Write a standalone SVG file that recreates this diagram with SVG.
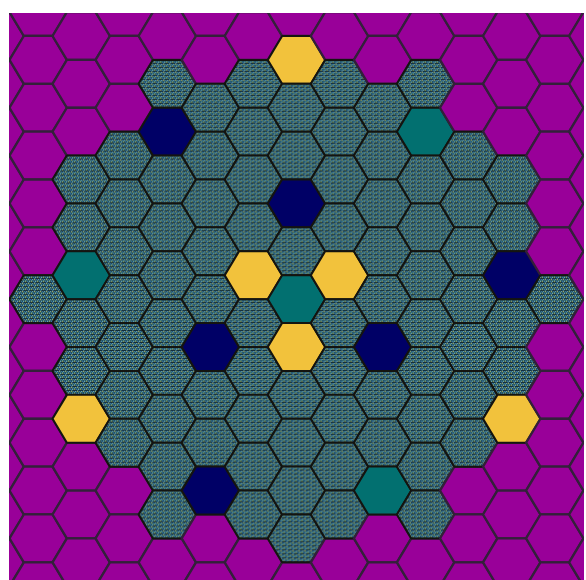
<svg xmlns="http://www.w3.org/2000/svg" xmlns:xlink="http://www.w3.org/1999/xlink" width="586" height="580" viewBox="0 0 586 580">
<defs>
<style>
use{stroke-width:2;stroke-linejoin:round}
.p{fill:#990099;stroke:#33203a;stroke-width:2.3}
.f{fill:url(#tex);stroke:#141410}
.y{fill:#f2c23c;stroke:#141410}
.t{fill:#027070;stroke:#141410}
.n{fill:#000066;stroke:#141410}
</style>
<pattern id="tex" width="6" height="4" patternUnits="userSpaceOnUse">
<rect width="6" height="4" fill="#1d434c"/>
<rect x="0" y="0" width="1" height="1" fill="#86c8dc"/>
<rect x="2" y="0" width="1" height="1" fill="#c4c468"/>
<rect x="4" y="0" width="1" height="1" fill="#3f88c8"/>
<rect x="1" y="1" width="1" height="1" fill="#2e6a88"/>
<rect x="3" y="1" width="1" height="1" fill="#4a8e90"/>
<rect x="5" y="1" width="1" height="1" fill="#6aa8a8"/>
<rect x="1" y="2" width="1" height="1" fill="#3f88c8"/>
<rect x="3" y="2" width="1" height="1" fill="#86c8dc"/>
<rect x="5" y="2" width="1" height="1" fill="#a8b458"/>
<rect x="0" y="3" width="6" height="1" fill="#142c34"/>
<rect x="2" y="3" width="1" height="1" fill="#4e90a8"/>
</pattern>
<path id="hx" d="M-28.7,0 L-14.35,-23.93 L14.35,-23.93 L28.7,0 L14.35,23.93 L-14.35,23.93 Z"/>
<clipPath id="clip"><rect x="9" y="13" width="575" height="572"/></clipPath>
</defs>
<rect width="586" height="580" fill="#ffffff"/>
<g clip-path="url(#clip)">
<g id="col-m7">
<use id="h-m7-0" href="#hx" x="-4.85" y="36" class="p"/>
<use id="h-m7-1" href="#hx" x="-4.85" y="83.85" class="p"/>
<use id="h-m7-2" href="#hx" x="-4.85" y="131.7" class="p"/>
<use id="h-m7-3" href="#hx" x="-4.85" y="179.55" class="p"/>
<use id="h-m7-4" href="#hx" x="-4.85" y="227.4" class="p"/>
<use id="h-m7-5" href="#hx" x="-4.85" y="275.25" class="p"/>
<use id="h-m7-6" href="#hx" x="-4.85" y="323.1" class="p"/>
<use id="h-m7-7" href="#hx" x="-4.85" y="370.95" class="p"/>
<use id="h-m7-8" href="#hx" x="-4.85" y="418.8" class="p"/>
<use id="h-m7-9" href="#hx" x="-4.85" y="466.65" class="p"/>
<use id="h-m7-10" href="#hx" x="-4.85" y="514.5" class="p"/>
<use id="h-m7-11" href="#hx" x="-4.85" y="562.35" class="p"/>
</g>
<g id="col-m6">
<use id="h-m6-m1" href="#hx" x="38.2" y="12.05" class="p"/>
<use id="h-m6-0" href="#hx" x="38.2" y="59.9" class="p"/>
<use id="h-m6-1" href="#hx" x="38.2" y="107.75" class="p"/>
<use id="h-m6-2" href="#hx" x="38.2" y="155.6" class="p"/>
<use id="h-m6-3" href="#hx" x="38.2" y="203.45" class="p"/>
<use id="h-m6-4" href="#hx" x="38.2" y="251.3" class="p"/>
<use id="h-m6-6" href="#hx" x="38.2" y="347" class="p"/>
<use id="h-m6-7" href="#hx" x="38.2" y="394.85" class="p"/>
<use id="h-m6-8" href="#hx" x="38.2" y="442.7" class="p"/>
<use id="h-m6-9" href="#hx" x="38.2" y="490.55" class="p"/>
<use id="h-m6-10" href="#hx" x="38.2" y="538.4" class="p"/>
<use id="h-m6-11" href="#hx" x="38.2" y="586.25" class="p"/>
<use id="h-m6-5" href="#hx" x="38.2" y="299.15" class="f"/>
</g>
<g id="col-m5">
<use id="h-m5-0" href="#hx" x="81.25" y="36" class="p"/>
<use id="h-m5-1" href="#hx" x="81.25" y="83.85" class="p"/>
<use id="h-m5-2" href="#hx" x="81.25" y="131.7" class="p"/>
<use id="h-m5-9" href="#hx" x="81.25" y="466.65" class="p"/>
<use id="h-m5-10" href="#hx" x="81.25" y="514.5" class="p"/>
<use id="h-m5-11" href="#hx" x="81.25" y="562.35" class="p"/>
<use id="h-m5-3" href="#hx" x="81.25" y="179.55" class="f"/>
<use id="h-m5-4" href="#hx" x="81.25" y="227.4" class="f"/>
<use id="h-m5-5" href="#hx" x="81.25" y="275.25" class="t"/>
<use id="h-m5-6" href="#hx" x="81.25" y="323.1" class="f"/>
<use id="h-m5-7" href="#hx" x="81.25" y="370.95" class="f"/>
<use id="h-m5-8" href="#hx" x="81.25" y="418.8" class="y"/>
</g>
<g id="col-m4">
<use id="h-m4-m1" href="#hx" x="124.3" y="12.05" class="p"/>
<use id="h-m4-0" href="#hx" x="124.3" y="59.9" class="p"/>
<use id="h-m4-1" href="#hx" x="124.3" y="107.75" class="p"/>
<use id="h-m4-9" href="#hx" x="124.3" y="490.55" class="p"/>
<use id="h-m4-10" href="#hx" x="124.3" y="538.4" class="p"/>
<use id="h-m4-11" href="#hx" x="124.3" y="586.25" class="p"/>
<use id="h-m4-2" href="#hx" x="124.3" y="155.6" class="f"/>
<use id="h-m4-3" href="#hx" x="124.3" y="203.45" class="f"/>
<use id="h-m4-4" href="#hx" x="124.3" y="251.3" class="f"/>
<use id="h-m4-5" href="#hx" x="124.3" y="299.15" class="f"/>
<use id="h-m4-6" href="#hx" x="124.3" y="347" class="f"/>
<use id="h-m4-7" href="#hx" x="124.3" y="394.85" class="f"/>
<use id="h-m4-8" href="#hx" x="124.3" y="442.7" class="f"/>
</g>
<g id="col-m3">
<use id="h-m3-0" href="#hx" x="167.35" y="36" class="p"/>
<use id="h-m3-11" href="#hx" x="167.35" y="562.35" class="p"/>
<use id="h-m3-1" href="#hx" x="167.35" y="83.85" class="f"/>
<use id="h-m3-2" href="#hx" x="167.35" y="131.7" class="n"/>
<use id="h-m3-3" href="#hx" x="167.35" y="179.55" class="f"/>
<use id="h-m3-4" href="#hx" x="167.35" y="227.4" class="f"/>
<use id="h-m3-5" href="#hx" x="167.35" y="275.25" class="f"/>
<use id="h-m3-6" href="#hx" x="167.35" y="323.1" class="f"/>
<use id="h-m3-7" href="#hx" x="167.35" y="370.95" class="f"/>
<use id="h-m3-8" href="#hx" x="167.35" y="418.8" class="f"/>
<use id="h-m3-9" href="#hx" x="167.35" y="466.65" class="f"/>
<use id="h-m3-10" href="#hx" x="167.35" y="514.5" class="f"/>
</g>
<g id="col-m2">
<use id="h-m2-m1" href="#hx" x="210.4" y="12.05" class="p"/>
<use id="h-m2-0" href="#hx" x="210.4" y="59.9" class="p"/>
<use id="h-m2-10" href="#hx" x="210.4" y="538.4" class="p"/>
<use id="h-m2-11" href="#hx" x="210.4" y="586.25" class="p"/>
<use id="h-m2-1" href="#hx" x="210.4" y="107.75" class="f"/>
<use id="h-m2-2" href="#hx" x="210.4" y="155.6" class="f"/>
<use id="h-m2-3" href="#hx" x="210.4" y="203.45" class="f"/>
<use id="h-m2-4" href="#hx" x="210.4" y="251.3" class="f"/>
<use id="h-m2-5" href="#hx" x="210.4" y="299.15" class="f"/>
<use id="h-m2-6" href="#hx" x="210.4" y="347" class="n"/>
<use id="h-m2-7" href="#hx" x="210.4" y="394.85" class="f"/>
<use id="h-m2-8" href="#hx" x="210.4" y="442.7" class="f"/>
<use id="h-m2-9" href="#hx" x="210.4" y="490.55" class="n"/>
</g>
<g id="col-m1">
<use id="h-m1-0" href="#hx" x="253.45" y="36" class="p"/>
<use id="h-m1-11" href="#hx" x="253.45" y="562.35" class="p"/>
<use id="h-m1-1" href="#hx" x="253.45" y="83.85" class="f"/>
<use id="h-m1-2" href="#hx" x="253.45" y="131.7" class="f"/>
<use id="h-m1-3" href="#hx" x="253.45" y="179.55" class="f"/>
<use id="h-m1-4" href="#hx" x="253.45" y="227.4" class="f"/>
<use id="h-m1-5" href="#hx" x="253.45" y="275.25" class="y"/>
<use id="h-m1-6" href="#hx" x="253.45" y="323.1" class="f"/>
<use id="h-m1-7" href="#hx" x="253.45" y="370.95" class="f"/>
<use id="h-m1-8" href="#hx" x="253.45" y="418.8" class="f"/>
<use id="h-m1-9" href="#hx" x="253.45" y="466.65" class="f"/>
<use id="h-m1-10" href="#hx" x="253.45" y="514.5" class="f"/>
</g>
<g id="col-0">
<use id="h-0-m1" href="#hx" x="296.5" y="12.05" class="p"/>
<use id="h-0-11" href="#hx" x="296.5" y="586.25" class="p"/>
<use id="h-0-0" href="#hx" x="296.5" y="59.9" class="y"/>
<use id="h-0-1" href="#hx" x="296.5" y="107.75" class="f"/>
<use id="h-0-2" href="#hx" x="296.5" y="155.6" class="f"/>
<use id="h-0-3" href="#hx" x="296.5" y="203.45" class="n"/>
<use id="h-0-4" href="#hx" x="296.5" y="251.3" class="f"/>
<use id="h-0-5" href="#hx" x="296.5" y="299.15" class="t"/>
<use id="h-0-6" href="#hx" x="296.5" y="347" class="y"/>
<use id="h-0-7" href="#hx" x="296.5" y="394.85" class="f"/>
<use id="h-0-8" href="#hx" x="296.5" y="442.7" class="f"/>
<use id="h-0-9" href="#hx" x="296.5" y="490.55" class="f"/>
<use id="h-0-10" href="#hx" x="296.5" y="538.4" class="f"/>
</g>
<g id="col-1">
<use id="h-1-0" href="#hx" x="339.55" y="36" class="p"/>
<use id="h-1-11" href="#hx" x="339.55" y="562.35" class="p"/>
<use id="h-1-1" href="#hx" x="339.55" y="83.85" class="f"/>
<use id="h-1-2" href="#hx" x="339.55" y="131.7" class="f"/>
<use id="h-1-3" href="#hx" x="339.55" y="179.55" class="f"/>
<use id="h-1-4" href="#hx" x="339.55" y="227.4" class="f"/>
<use id="h-1-5" href="#hx" x="339.55" y="275.25" class="y"/>
<use id="h-1-6" href="#hx" x="339.55" y="323.1" class="f"/>
<use id="h-1-7" href="#hx" x="339.55" y="370.95" class="f"/>
<use id="h-1-8" href="#hx" x="339.55" y="418.8" class="f"/>
<use id="h-1-9" href="#hx" x="339.55" y="466.65" class="f"/>
<use id="h-1-10" href="#hx" x="339.55" y="514.5" class="f"/>
</g>
<g id="col-2">
<use id="h-2-m1" href="#hx" x="382.6" y="12.05" class="p"/>
<use id="h-2-0" href="#hx" x="382.6" y="59.9" class="p"/>
<use id="h-2-10" href="#hx" x="382.6" y="538.4" class="p"/>
<use id="h-2-11" href="#hx" x="382.6" y="586.25" class="p"/>
<use id="h-2-1" href="#hx" x="382.6" y="107.75" class="f"/>
<use id="h-2-2" href="#hx" x="382.6" y="155.6" class="f"/>
<use id="h-2-3" href="#hx" x="382.6" y="203.45" class="f"/>
<use id="h-2-4" href="#hx" x="382.6" y="251.3" class="f"/>
<use id="h-2-5" href="#hx" x="382.6" y="299.15" class="f"/>
<use id="h-2-6" href="#hx" x="382.6" y="347" class="n"/>
<use id="h-2-7" href="#hx" x="382.6" y="394.85" class="f"/>
<use id="h-2-8" href="#hx" x="382.6" y="442.7" class="f"/>
<use id="h-2-9" href="#hx" x="382.6" y="490.55" class="t"/>
</g>
<g id="col-3">
<use id="h-3-0" href="#hx" x="425.65" y="36" class="p"/>
<use id="h-3-11" href="#hx" x="425.65" y="562.35" class="p"/>
<use id="h-3-1" href="#hx" x="425.65" y="83.85" class="f"/>
<use id="h-3-2" href="#hx" x="425.65" y="131.7" class="t"/>
<use id="h-3-3" href="#hx" x="425.65" y="179.55" class="f"/>
<use id="h-3-4" href="#hx" x="425.65" y="227.4" class="f"/>
<use id="h-3-5" href="#hx" x="425.65" y="275.25" class="f"/>
<use id="h-3-6" href="#hx" x="425.65" y="323.1" class="f"/>
<use id="h-3-7" href="#hx" x="425.65" y="370.95" class="f"/>
<use id="h-3-8" href="#hx" x="425.65" y="418.8" class="f"/>
<use id="h-3-9" href="#hx" x="425.65" y="466.65" class="f"/>
<use id="h-3-10" href="#hx" x="425.65" y="514.5" class="f"/>
</g>
<g id="col-4">
<use id="h-4-m1" href="#hx" x="468.7" y="12.05" class="p"/>
<use id="h-4-0" href="#hx" x="468.7" y="59.9" class="p"/>
<use id="h-4-1" href="#hx" x="468.7" y="107.75" class="p"/>
<use id="h-4-9" href="#hx" x="468.7" y="490.55" class="p"/>
<use id="h-4-10" href="#hx" x="468.7" y="538.4" class="p"/>
<use id="h-4-11" href="#hx" x="468.7" y="586.25" class="p"/>
<use id="h-4-2" href="#hx" x="468.7" y="155.6" class="f"/>
<use id="h-4-3" href="#hx" x="468.7" y="203.45" class="f"/>
<use id="h-4-4" href="#hx" x="468.7" y="251.3" class="f"/>
<use id="h-4-5" href="#hx" x="468.7" y="299.15" class="f"/>
<use id="h-4-6" href="#hx" x="468.7" y="347" class="f"/>
<use id="h-4-7" href="#hx" x="468.7" y="394.85" class="f"/>
<use id="h-4-8" href="#hx" x="468.7" y="442.7" class="f"/>
</g>
<g id="col-5">
<use id="h-5-0" href="#hx" x="511.75" y="36" class="p"/>
<use id="h-5-1" href="#hx" x="511.75" y="83.85" class="p"/>
<use id="h-5-2" href="#hx" x="511.75" y="131.7" class="p"/>
<use id="h-5-9" href="#hx" x="511.75" y="466.65" class="p"/>
<use id="h-5-10" href="#hx" x="511.75" y="514.5" class="p"/>
<use id="h-5-11" href="#hx" x="511.75" y="562.35" class="p"/>
<use id="h-5-3" href="#hx" x="511.75" y="179.55" class="f"/>
<use id="h-5-4" href="#hx" x="511.75" y="227.4" class="f"/>
<use id="h-5-5" href="#hx" x="511.75" y="275.25" class="n"/>
<use id="h-5-6" href="#hx" x="511.75" y="323.1" class="f"/>
<use id="h-5-7" href="#hx" x="511.75" y="370.95" class="f"/>
<use id="h-5-8" href="#hx" x="511.75" y="418.8" class="y"/>
</g>
<g id="col-6">
<use id="h-6-m1" href="#hx" x="554.8" y="12.05" class="p"/>
<use id="h-6-0" href="#hx" x="554.8" y="59.9" class="p"/>
<use id="h-6-1" href="#hx" x="554.8" y="107.75" class="p"/>
<use id="h-6-2" href="#hx" x="554.8" y="155.6" class="p"/>
<use id="h-6-3" href="#hx" x="554.8" y="203.45" class="p"/>
<use id="h-6-4" href="#hx" x="554.8" y="251.3" class="p"/>
<use id="h-6-6" href="#hx" x="554.8" y="347" class="p"/>
<use id="h-6-7" href="#hx" x="554.8" y="394.85" class="p"/>
<use id="h-6-8" href="#hx" x="554.8" y="442.7" class="p"/>
<use id="h-6-9" href="#hx" x="554.8" y="490.55" class="p"/>
<use id="h-6-10" href="#hx" x="554.8" y="538.4" class="p"/>
<use id="h-6-11" href="#hx" x="554.8" y="586.25" class="p"/>
<use id="h-6-5" href="#hx" x="554.8" y="299.15" class="f"/>
</g>
<g id="col-7">
<use id="h-7-0" href="#hx" x="597.85" y="36" class="p"/>
<use id="h-7-1" href="#hx" x="597.85" y="83.85" class="p"/>
<use id="h-7-2" href="#hx" x="597.85" y="131.7" class="p"/>
<use id="h-7-3" href="#hx" x="597.85" y="179.55" class="p"/>
<use id="h-7-4" href="#hx" x="597.85" y="227.4" class="p"/>
<use id="h-7-5" href="#hx" x="597.85" y="275.25" class="p"/>
<use id="h-7-6" href="#hx" x="597.85" y="323.1" class="p"/>
<use id="h-7-7" href="#hx" x="597.85" y="370.95" class="p"/>
<use id="h-7-8" href="#hx" x="597.85" y="418.8" class="p"/>
<use id="h-7-9" href="#hx" x="597.85" y="466.65" class="p"/>
<use id="h-7-10" href="#hx" x="597.85" y="514.5" class="p"/>
<use id="h-7-11" href="#hx" x="597.85" y="562.35" class="p"/>
</g>
</g>
</svg>
